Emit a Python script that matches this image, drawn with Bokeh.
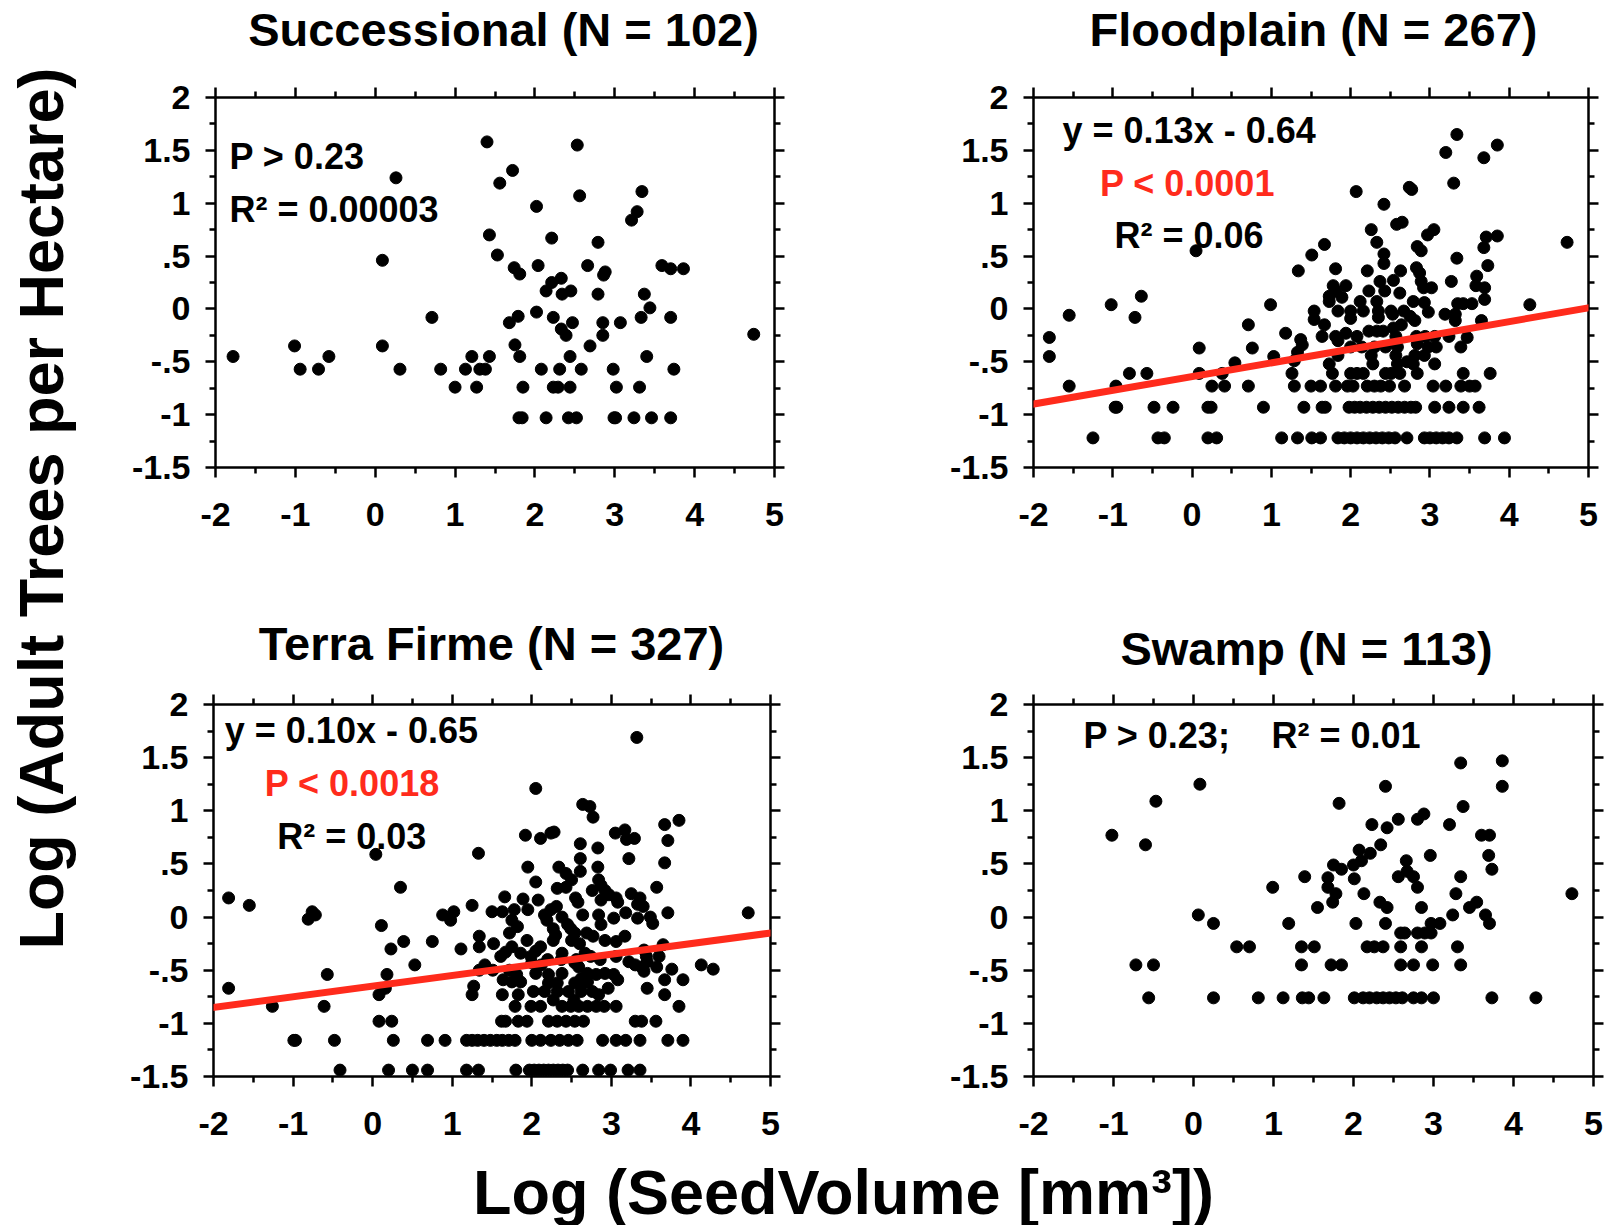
import math
from bokeh.plotting import figure
from bokeh.models import (Range1d, LinearAxis, FixedTicker, CustomJSTickFormatter,
                          Label, Slope)
from bokeh.layouts import row, column
from bokeh.embed import file_html
from bokeh.resources import INLINE

FONT = "Liberation Sans"
RED = "#FF2B1C"

# ---------------- data ----------------
x_ticks = [-2, -1, 0, 1, 2, 3, 4, 5]
x_minor = [-1.5, -0.5, 0.5, 1.5, 2.5, 3.5, 4.5]
y_ticks = [-1.5, -1, -0.5, 0, 0.5, 1, 1.5, 2]
y_minor = [-1.25, -0.75, -0.25, 0.25, 0.75, 1.25, 1.75]

titles = ["Successional (N = 102)", "Floodplain (N = 267)",
          "Terra Firme (N = 327)", "Swamp (N = 113)"]

successional = [
    (-1.78, -0.45), (-1.01, -0.35), (-0.94, -0.57), (-0.71, -0.57), (-0.58, -0.45),
    (0.09, 0.46), (0.09, -0.35), (0.26, 1.24), (0.31, -0.57), (0.71, -0.08),
    (0.82, -0.57), (1.00, -0.74), (1.13, -0.57), (1.21, -0.45), (1.27, -0.74),
    (1.31, -0.57), (1.38, -0.57), (1.40, 1.58), (1.43, 0.70), (1.43, -0.45),
    (1.53, 0.51), (1.56, 1.19), (1.68, -0.13), (1.72, 1.31), (1.74, 0.39),
    (1.75, -0.34), (1.79, -0.07), (1.81, 0.33), (1.81, -0.45), (1.84, -1.03),
    (1.80, -1.03), (1.85, -0.74), (2.02, 0.97), (2.02, -0.03), (2.04, 0.41),
    (2.08, -0.57), (2.14, 0.17), (2.14, -1.03), (2.21, 0.67), (2.21, 0.25),
    (2.23, -0.08), (2.23, -0.74), (2.29, -0.74), (2.31, -0.57), (2.33, 0.29),
    (2.33, -0.19), (2.34, 0.14), (2.39, -0.25), (2.42, -1.03), (2.44, -0.45),
    (2.44, -0.74), (2.45, 0.17), (2.47, -0.13), (2.52, -1.03), (2.53, 1.55),
    (2.56, 1.07), (2.58, -0.57), (2.66, 0.41), (2.69, -0.35), (2.79, 0.63),
    (2.79, 0.14), (2.85, -0.13), (2.85, -0.25), (2.86, 0.32), (2.88, 0.35),
    (2.98, -0.57), (2.99, -1.03), (3.01, -1.03), (3.02, -0.74), (3.07, -0.13),
    (3.21, 0.84), (3.24, -1.03), (3.28, 0.92), (3.31, -0.74), (3.33, -0.08),
    (3.34, 1.11), (3.37, 0.14), (3.40, -0.45), (3.44, 0.01), (3.46, -1.03),
    (3.59, 0.41), (3.70, 0.38), (3.70, -0.08), (3.70, -1.03), (3.74, -0.57),
    (3.86, 0.38), (4.74, -0.24),
]

floodplain = [
    (3.34, 1.65), (3.20, 1.48), (3.85, 1.55), (3.68, 1.43), (3.30, 1.19),
    (2.07, 1.11), (2.74, 1.15), (2.77, 1.13), (2.42, 0.99), (3.05, 0.75),
    (2.97, 0.70), (2.26, 0.75), (2.58, 0.80), (2.65, 0.82), (2.33, 0.63),
    (3.71, 0.68), (3.85, 0.69), (4.73, 0.63), (0.05, 0.55), (1.67, 0.61),
    (1.51, 0.51), (2.42, 0.52), (2.42, 0.43), (2.84, 0.59), (2.89, 0.55),
    (3.34, 0.48), (3.68, 0.58), (3.73, 0.41), (1.34, 0.36), (1.81, 0.38),
    (2.21, 0.36), (2.63, 0.36), (2.83, 0.39), (2.87, 0.34), (2.37, 0.26),
    (2.54, 0.27), (2.89, 0.26), (2.92, 0.20), (3.27, 0.26), (3.59, 0.31),
    (3.58, 0.22), (3.69, 0.20), (1.78, 0.22), (1.81, 0.17), (1.94, 0.22),
    (2.43, 0.17), (2.23, 0.17), (3.02, 0.20), (1.73, 0.12), (1.73, 0.07),
    (1.89, 0.11), (2.12, 0.07), (2.33, 0.07), (2.62, 0.15), (3.69, 0.09),
    (2.79, 0.07), (2.93, 0.06), (-0.64, 0.12), (-1.02, 0.04), (-1.55, -0.06),
    (-0.72, -0.08), (0.99, 0.04), (4.26, 0.04), (3.35, 0.05), (3.53, 0.05),
    (3.42, 0.05), (1.54, -0.02), (1.54, -0.10), (1.84, -0.02), (2.00, -0.02),
    (2.00, -0.09), (2.16, -0.02), (2.35, -0.02), (2.35, -0.08), (2.51, -0.02),
    (2.53, -0.05), (2.67, -0.02), (2.75, -0.07), (2.81, -0.11), (2.98, -0.03),
    (3.19, -0.05), (3.32, -0.05), (3.65, -0.11), (1.67, -0.15), (2.64, -0.15),
    (2.54, -0.18), (3.32, -0.11), (0.71, -0.15), (1.18, -0.23), (1.64, -0.26),
    (1.81, -0.26), (1.94, -0.23), (2.08, -0.26), (2.23, -0.21), (2.33, -0.21),
    (2.41, -0.21), (2.57, -0.26), (2.83, -0.26), (2.94, -0.26), (3.06, -0.26),
    (3.24, -0.26), (3.47, -0.27), (-1.80, -0.27), (1.37, -0.29), (1.39, -0.34),
    (1.84, -0.30), (2.00, -0.36), (2.14, -0.36), (2.30, -0.36), (2.44, -0.36),
    (2.59, -0.36), (2.84, -0.33), (2.98, -0.36), (3.08, -0.36), (3.39, -0.36),
    (0.09, -0.37), (0.76, -0.37), (2.26, -0.44), (2.57, -0.44), (2.81, -0.44),
    (2.93, -0.44), (1.84, -0.44), (1.33, -0.41), (1.29, -0.49), (1.03, -0.45),
    (-1.80, -0.45), (2.28, -0.52), (2.59, -0.52), (2.71, -0.50), (2.79, -0.52),
    (3.06, -0.52), (1.73, -0.52), (0.54, -0.51),
    (0.09, -0.61), (0.38, -0.61), (1.26, -0.61), (1.77, -0.61), (2.00, -0.61),
    (2.08, -0.61), (2.16, -0.61), (2.44, -0.61), (2.51, -0.61), (2.62, -0.61),
    (2.84, -0.61), (3.42, -0.61), (3.76, -0.61), (-0.79, -0.61), (-0.57, -0.61),
    (-0.96, -0.73), (-1.55, -0.73), (0.25, -0.73), (0.41, -0.73), (0.71, -0.73),
    (1.29, -0.73), (1.50, -0.73), (1.62, -0.73), (1.81, -0.73), (1.96, -0.73),
    (2.03, -0.73), (2.21, -0.73), (2.30, -0.73), (2.38, -0.73), (2.49, -0.73),
    (2.68, -0.73), (3.04, -0.73), (3.20, -0.73), (3.39, -0.73), (3.50, -0.73),
    (3.57, -0.73),
    (-0.97, -0.93), (-0.95, -0.93), (-0.48, -0.93), (-0.24, -0.93), (0.20, -0.93),
    (0.24, -0.93), (0.90, -0.93), (1.41, -0.93), (1.64, -0.93), (1.68, -0.93),
    (1.98, -0.93), (2.05, -0.93), (2.12, -0.93), (2.20, -0.93), (2.28, -0.93),
    (2.36, -0.93), (2.44, -0.93), (2.52, -0.93), (2.60, -0.93), (2.68, -0.93),
    (2.76, -0.93), (2.82, -0.93), (3.06, -0.93), (3.24, -0.93), (3.42, -0.93),
    (3.62, -0.93),
    (-1.25, -1.22), (-0.43, -1.22), (-0.35, -1.22), (0.20, -1.22), (0.31, -1.22),
    (1.13, -1.22), (1.33, -1.22), (1.51, -1.22), (1.62, -1.22), (1.84, -1.22),
    (1.92, -1.22), (2.00, -1.22), (2.08, -1.22), (2.16, -1.22), (2.24, -1.22),
    (2.32, -1.22), (2.40, -1.22), (2.48, -1.22), (2.56, -1.22), (2.71, -1.22),
    (2.93, -1.22), (3.00, -1.22), (3.08, -1.22), (3.16, -1.22), (3.24, -1.22),
    (3.34, -1.22), (3.69, -1.22), (3.94, -1.22),
]

terra_firme = [
    (3.32, 1.69), (2.05, 1.21), (2.64, 1.06), (2.73, 1.04), (2.77, 0.94),
    (3.85, 0.91), (3.67, 0.87), (1.92, 0.77), (2.11, 0.74), (2.24, 0.79),
    (2.28, 0.80), (3.05, 0.79), (3.17, 0.82), (3.19, 0.73), (3.29, 0.74),
    (2.61, 0.69), (3.71, 0.72), (2.83, 0.65), (0.04, 0.59), (1.33, 0.60),
    (2.61, 0.55), (3.22, 0.55), (3.67, 0.51), (1.95, 0.47), (2.34, 0.47),
    (2.43, 0.41), (2.61, 0.43), (2.83, 0.47), (2.05, 0.33), (2.50, 0.35),
    (0.35, 0.28), (2.32, 0.27), (2.43, 0.28), (2.84, 0.35), (2.87, 0.30),
    (2.76, 0.25), (2.92, 0.25), (3.57, 0.28), (2.97, 0.21), (3.06, 0.18),
    (3.25, 0.22), (3.36, 0.18), (-1.81, 0.18), (-1.55, 0.11), (1.66, 0.19),
    (1.89, 0.17), (2.08, 0.16), (2.55, 0.18), (2.58, 0.14), (2.87, 0.16),
    (3.08, 0.14), (1.25, 0.11), (2.31, 0.10), (2.24, 0.07), (3.33, 0.12),
    (3.40, 0.10), (-0.76, 0.05), (-0.72, 0.02), (-0.81, -0.02), (0.88, 0.02),
    (1.02, 0.05), (0.98, -0.03), (1.50, 0.05), (1.63, 0.05), (1.78, 0.07),
    (1.95, 0.07), (3.71, 0.04), (4.72, 0.04), (2.84, 0.02), (3.03, -0.01),
    (3.18, 0.04), (3.33, -0.01), (3.49, 0.00), (3.52, -0.06), (2.64, 0.02),
    (2.16, 0.02), (2.19, -0.03), (2.38, 0.00), (2.45, -0.07), (2.49, -0.11),
    (1.75, -0.03), (1.82, -0.09), (0.11, -0.08), (2.87, -0.07), (2.27, -0.11),
    (2.30, -0.17), (2.54, -0.15), (2.69, -0.15), (2.77, -0.18), (1.72, -0.15),
    (2.27, -0.22), (1.94, -0.22), (1.34, -0.18), (1.34, -0.28), (0.39, -0.23),
    (0.75, -0.23), (2.92, -0.22), (3.06, -0.23), (3.17, -0.18), (2.50, -0.22),
    (2.60, -0.25), (1.52, -0.25), (1.75, -0.28), (3.65, -0.26), (1.11, -0.30),
    (0.23, -0.30), (2.11, -0.28), (2.05, -0.32), (2.38, -0.34), (2.37, -0.40),
    (2.67, -0.34), (2.74, -0.37), (3.06, -0.37), (3.41, -0.31), (3.44, -0.37),
    (3.60, -0.37), (1.61, -0.37), (1.67, -0.33), (1.86, -0.34), (1.99, -0.37),
    (2.20, -0.40), (2.56, -0.40), (2.86, -0.40), (3.22, -0.42), (3.30, -0.45),
    (3.45, -0.42), (1.41, -0.45), (1.51, -0.50), (1.34, -0.50), (0.53, -0.45),
    (2.00, -0.43), (2.12, -0.45), (2.59, -0.47), (2.54, -0.43), (3.38, -0.47),
    (3.41, -0.51), (3.76, -0.49), (3.57, -0.47), (4.13, -0.45), (4.28, -0.49),
    (-0.57, -0.54), (0.18, -0.54), (1.72, -0.50), (1.81, -0.54), (2.05, -0.53),
    (2.21, -0.54), (2.38, -0.53), (2.70, -0.53), (2.81, -0.54), (2.92, -0.53),
    (3.03, -0.54), (1.64, -0.59), (1.75, -0.61), (1.86, -0.61), (2.62, -0.58),
    (2.70, -0.61), (3.08, -0.59), (3.67, -0.59), (3.90, -0.59), (2.21, -0.62),
    (2.32, -0.62), (2.54, -0.62), (2.62, -0.64), (-1.81, -0.67), (1.27, -0.65),
    (0.16, -0.67), (2.96, -0.67), (3.45, -0.67), (2.02, -0.70), (2.16, -0.70),
    (2.32, -0.70), (2.46, -0.70), (2.62, -0.70), (2.76, -0.70), (2.84, -0.73),
    (0.08, -0.73), (1.25, -0.73), (1.63, -0.73), (1.83, -0.73), (3.67, -0.73),
    (2.27, -0.78), (2.53, -0.78),
    (-1.26, -0.84), (-0.61, -0.84), (1.79, -0.84), (1.99, -0.84), (2.11, -0.84),
    (2.38, -0.84), (2.49, -0.84), (2.59, -0.84), (2.70, -0.84), (2.81, -0.84),
    (2.91, -0.84), (3.06, -0.84), (3.85, -0.84),
    (0.08, -0.98), (0.24, -0.98), (1.62, -0.98), (1.67, -0.98), (1.83, -0.98),
    (1.94, -0.98), (2.21, -0.98), (2.32, -0.98), (2.43, -0.98), (2.54, -0.98),
    (2.65, -0.98), (3.30, -0.98), (3.38, -0.98), (3.56, -0.98),
    (-0.99, -1.16), (-0.97, -1.16), (-0.48, -1.16), (0.26, -1.16), (0.69, -1.16),
    (0.91, -1.16), (1.18, -1.16), (1.25, -1.16), (1.32, -1.16), (1.40, -1.16),
    (1.48, -1.16), (1.56, -1.16), (1.63, -1.16), (1.71, -1.16), (1.79, -1.16),
    (2.00, -1.16), (2.11, -1.16), (2.24, -1.16), (2.35, -1.16), (2.46, -1.16),
    (2.57, -1.16), (2.89, -1.16), (3.06, -1.16), (3.18, -1.16), (3.36, -1.16),
    (3.71, -1.16), (3.90, -1.16),
    (-0.41, -1.44), (0.20, -1.44), (0.50, -1.44), (0.69, -1.44), (1.18, -1.44),
    (1.33, -1.44), (1.80, -1.44), (1.97, -1.44), (2.03, -1.44), (2.09, -1.44),
    (2.15, -1.44), (2.21, -1.44), (2.27, -1.44), (2.33, -1.44), (2.39, -1.44),
    (2.45, -1.44), (2.64, -1.44), (2.84, -1.44), (2.99, -1.44), (3.21, -1.44),
    (3.36, -1.44),
]

swamp = [
    (-1.02, 0.77), (-0.60, 0.68), (-0.47, 1.09), (-0.72, -0.45), (-0.50, -0.45),
    (-0.56, -0.76), (0.08, 1.25), (0.06, 0.02), (0.25, -0.06), (0.25, -0.76),
    (0.54, -0.28), (0.70, -0.28), (0.81, -0.76), (0.99, 0.28), (1.12, -0.76),
    (1.19, -0.06), (1.35, -0.28), (1.35, -0.45), (1.36, -0.76), (1.44, -0.76),
    (1.39, 0.38), (1.51, -0.28), (1.55, 0.09), (1.63, -0.76), (1.68, 0.37),
    (1.68, 0.28), (1.74, 0.14), (1.75, 0.49), (1.78, 0.22), (1.72, -0.45),
    (1.85, -0.45), (1.82, 1.07), (1.85, 0.45), (2.00, 0.49), (2.01, 0.36),
    (2.03, -0.06), (2.01, -0.76), (2.07, 0.63), (2.10, 0.53), (2.13, 0.22),
    (2.17, -0.28), (2.26, -0.28), (2.37, -0.28), (2.21, 0.60), (2.23, 0.87),
    (2.34, 0.68), (2.33, 0.14), (2.40, 1.23), (2.42, 0.84), (2.42, 0.09),
    (2.40, -0.06), (2.12, -0.76), (2.20, -0.76), (2.29, -0.76), (2.37, -0.76),
    (2.45, -0.76), (2.53, -0.76), (2.61, -0.76), (2.56, 0.92), (2.56, 0.38),
    (2.59, -0.15), (2.64, -0.15), (2.59, -0.28), (2.59, -0.45), (2.66, 0.53),
    (2.67, 0.43), (2.75, 0.38), (2.80, 0.28), (2.80, 0.92), (2.88, 0.97),
    (2.75, -0.45), (2.75, -0.76), (2.85, -0.76), (2.80, -0.15), (2.89, -0.15),
    (2.85, 0.09), (2.85, -0.28), (2.96, 0.58), (2.97, -0.15), (2.97, -0.06),
    (3.08, -0.06), (2.99, -0.45), (3.00, -0.76), (3.20, 0.87), (3.24, 0.02),
    (3.28, 0.22), (3.30, -0.28), (3.34, 1.45), (3.34, 0.38), (3.34, -0.45),
    (3.37, 1.04), (3.45, 0.09), (3.54, 0.14), (3.60, 0.77), (3.70, 0.77),
    (3.65, 0.02), (3.69, 0.58), (3.70, -0.06), (3.73, 0.45), (3.73, -0.76),
    (3.86, 1.47), (3.86, 1.23), (4.28, -0.76), (4.73, 0.22),
]

# fitted lines reported in the panels: (slope, intercept)
floodplain_fit = (0.13, -0.64)
terra_firme_fit = (0.10, -0.65)


# ---------------- helpers ----------------
def style_axis(ax, labels=True):
    ax.axis_line_width = 2.5
    ax.axis_line_color = "black"
    ax.major_tick_line_width = 2.5
    ax.minor_tick_line_width = 2.5
    ax.major_tick_out = 10
    ax.major_tick_in = 0
    ax.minor_tick_out = 6
    ax.minor_tick_in = 0
    ax.major_label_text_font = FONT
    ax.major_label_text_font_style = "bold"
    ax.major_label_text_color = "black"
    if labels:
        ax.major_label_text_font_size = "34px"
    else:
        ax.major_label_text_font_size = "1px"
        ax.major_label_standoff = 0


def panel(points, W, H, bl, bt, fw, fh, texts, fit=None):
    p = figure(width=W, height=H, x_range=Range1d(-2, 5), y_range=Range1d(-1.5, 2),
               min_border_left=bl, min_border_top=bt,
               min_border_right=W - bl - fw, min_border_bottom=H - bt - fh,
               toolbar_location=None, output_backend="svg", title=None,
               x_axis_location=None, y_axis_location=None)
    p.grid.visible = False
    p.outline_line_color = None
    p.background_fill_color = "white"
    p.border_fill_color = "white"

    xfmt = CustomJSTickFormatter(code="return String(tick);")
    yfmt = CustomJSTickFormatter(code="return String(tick).replace(/^(-?)0\\./, '$1.');")
    blank = CustomJSTickFormatter(code="return '';")

    bottom = LinearAxis(ticker=FixedTicker(ticks=x_ticks, minor_ticks=x_minor), formatter=xfmt)
    style_axis(bottom)
    bottom.major_label_standoff = 25
    left = LinearAxis(ticker=FixedTicker(ticks=y_ticks, minor_ticks=y_minor), formatter=yfmt)
    style_axis(left)
    left.major_label_standoff = 15
    top = LinearAxis(ticker=FixedTicker(ticks=x_ticks, minor_ticks=x_minor), formatter=blank)
    style_axis(top, labels=False)
    right = LinearAxis(ticker=FixedTicker(ticks=y_ticks, minor_ticks=y_minor), formatter=blank)
    style_axis(right, labels=False)
    p.add_layout(bottom, "below")
    p.add_layout(left, "left")
    p.add_layout(top, "above")
    p.add_layout(right, "right")

    if fit is not None:
        p.add_layout(Slope(gradient=fit[0], y_intercept=fit[1],
                           line_color=RED, line_width=7))

    xs = [pt[0] for pt in points]
    ys = [pt[1] for pt in points]
    p.scatter(xs, ys, size=12, color="black")

    for (tx, ty, txt, align, col) in texts:
        p.add_layout(Label(x=tx, y=ty, text=txt, text_font=FONT,
                           text_font_size="36px", text_font_style="bold",
                           text_color=col, text_align=align,
                           text_baseline="middle"))
    return p


def label_fig(W, H):
    f = figure(width=W, height=H, x_range=Range1d(0, W), y_range=Range1d(0, H),
               min_border=0, toolbar_location=None, output_backend="svg", title=None,
               x_axis_location=None, y_axis_location=None)
    f.grid.visible = False
    f.outline_line_color = None
    f.background_fill_color = "white"
    f.border_fill_color = "white"
    return f


def title_fig(W, H, text, x, y):
    f = label_fig(W, H)
    f.add_layout(Label(x=x, y=y, text=text, text_font=FONT, text_font_size="47px",
                       text_font_style="bold", text_color="black",
                       text_align="center", text_baseline="middle"))
    return f


tl = panel(successional, 807, 540, 117, 37, 559, 373,
           [(-1.825, 1.44, "P > 0.23", "left", "black"),
            (-1.825, 0.944, "R² = 0.00003", "left", "black")])
tr = panel(floodplain, 706, 540, 128, 34, 555, 373,
           [(-1.634, 1.684, "y = 0.13x - 0.64", "left", "black"),
            (-0.058, 1.186, "P < 0.0001", "center", RED),
            (-0.039, 0.698, "R² = 0.06", "center", "black")],
           fit=floodplain_fit)
bl_ = panel(terra_firme, 807, 475, 115, 24, 557, 373,
            [(-1.858, 1.756, "y = 0.10x - 0.65", "left", "black"),
             (-0.256, 1.259, "P < 0.0018", "center", RED),
             (-0.263, 0.762, "R² = 0.03", "center", "black")],
            fit=terra_firme_fit)
br = panel(swamp, 706, 475, 128, 23, 560, 373,
           [(-1.376, 1.712, "P > 0.23;", "left", "black"),
            (0.975, 1.712, "R² = 0.01", "left", "black")])

t_tl = title_fig(807, 60, titles[0], 405, 31)
t_tr = title_fig(706, 60, titles[1], 408, 31)
t_bl = title_fig(807, 80, titles[2], 393, 37)
t_br = title_fig(706, 80, titles[3], 401, 32)

ylab = label_fig(98, 1155)
ylab.add_layout(Label(x=40.5, y=647, text="Log (Adult Trees per Hectare)", angle=math.pi / 2,
                      text_font=FONT, text_font_size="63px", text_font_style="bold",
                      text_align="center", text_baseline="middle", text_color="black"))

xlab = label_fig(1611, 70)
xlab.add_layout(Label(x=843, y=34, text="Log (SeedVolume [mm³])",
                      text_font=FONT, text_font_size="63px", text_font_style="bold",
                      text_align="center", text_baseline="middle", text_color="black"))

grid = column(row(t_tl, t_tr), row(tl, tr), row(t_bl, t_br), row(bl_, br))
layout = column(row(ylab, grid), xlab)

open("out.html", "w").write(file_html(layout, INLINE))
